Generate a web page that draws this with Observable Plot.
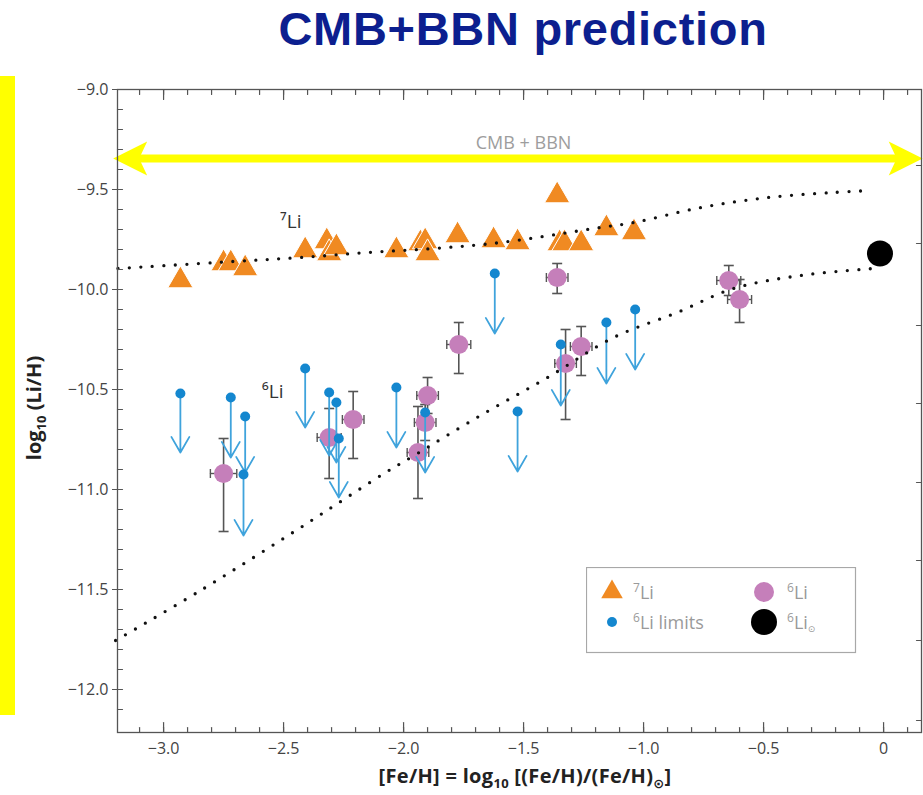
<!DOCTYPE html>
<html>
<head>
<meta charset="utf-8">
<script src="https://cdn.jsdelivr.net/npm/d3@7"></script>
<script src="https://cdn.jsdelivr.net/npm/@observablehq/plot@0.6"></script>
<style>
  html, body { margin: 0; padding: 0; background: #fff; }
  body { width: 923px; height: 795px; position: relative; overflow: hidden; font-family: "Open Sans", "DejaVu Sans", sans-serif; }
  #title { position: absolute; left: 523px; top: 1px; transform: translateX(-50%); white-space: nowrap;
           font-family: "Liberation Sans", Arial, sans-serif; font-weight: bold; font-size: 47px; letter-spacing: 0.7px; color: #0c1f8f; }
  #ybar { position: absolute; left: 0; top: 76px; width: 15px; height: 639px; background: #ffff00; }
  #chart { position: absolute; left: 0; top: 65px; }
  #ylabel { position: absolute; left: 35px; top: 408px; transform: translate(-50%, -50%) rotate(-90deg); white-space: nowrap;
            font-weight: bold; font-size: 20px; color: #222; }
  #xlabel { position: absolute; left: 525px; top: 777px; transform: translate(-50%, -50%); white-space: nowrap;
            font-weight: bold; font-size: 20px; color: #222; letter-spacing: 0.3px; }
  #ylabel sub, #xlabel sub { font-size: 13px; }
  #legend { position: absolute; left: 586px; top: 567px; }
</style>
</head>
<body>
<div id="title">CMB+BBN prediction</div>
<div id="ybar"></div>
<div id="chart"></div>
<div id="ylabel">log<sub>10</sub> (Li/H)</div>
<div id="xlabel">[Fe/H] = log<sub>10</sub> [(Fe/H)/(Fe/H)<sub>⊙</sub>]</div>
<div id="legend"></div>
<script>
// ---------- data ----------
// 7Li measurements: [Fe/H], log10(Li/H)
const li7Stars = [
  [-2.93, -9.955], [-2.75, -9.87], [-2.72, -9.87], [-2.66, -9.895],
  [-2.41, -9.805], [-2.32, -9.76], [-2.31, -9.82], [-2.28, -9.79],
  [-2.03, -9.805], [-1.93, -9.77], [-1.91, -9.76], [-1.90, -9.82],
  [-1.775, -9.73], [-1.625, -9.755], [-1.525, -9.765], [-1.36, -9.53],
  [-1.35, -9.77], [-1.33, -9.77], [-1.26, -9.77], [-1.155, -9.695], [-1.04, -9.715]
];
// 6Li detections: [Fe/H], log10(Li/H), lower, upper, [Fe/H] error
const li6Stars = [
  [-2.75, -10.92, -11.21, -10.745, 0.055],
  [-2.31, -10.74, -10.945, -10.595, 0.05],
  [-2.21, -10.65, -10.845, -10.51, 0.045],
  [-1.90, -10.53, -10.62, -10.44, 0.045],
  [-1.91, -10.665, -10.755, -10.575, 0.045],
  [-1.94, -10.815, -11.045, -10.585, 0.045],
  [-1.77, -10.275, -10.42, -10.165, 0.05],
  [-1.36, -9.94, -10.02, -9.87, 0.045],
  [-1.325, -10.37, -10.65, -10.2, 0.045],
  [-1.26, -10.285, -10.43, -10.185, 0.045],
  [-0.645, -9.955, -10.03, -9.88, 0.05],
  [-0.60, -10.05, -10.165, -9.95, 0.05]
];
// 6Li upper limits: [Fe/H], limit, arrow tip
const li6Limits = [
  [-2.93, -10.52, -10.815], [-2.72, -10.54, -10.84], [-2.66, -10.635, -10.915],
  [-2.667, -10.925, -11.23], [-2.41, -10.395, -10.69], [-2.31, -10.515, -10.83],
  [-2.28, -10.565, -10.865], [-2.27, -10.745, -11.04], [-2.03, -10.49, -10.79],
  [-1.91, -10.615, -10.915], [-1.62, -9.92, -10.22], [-1.525, -10.61, -10.91],
  [-1.345, -10.275, -10.58], [-1.155, -10.165, -10.47], [-1.035, -10.1, -10.4]
];
// solar-system 6Li
const li6Sun = [[-0.015, -9.82]];
// model curves (dotted)
const curve7 = [
  [-3.19, -9.895], [-2.71, -9.86], [-2.43, -9.84], [-2.15, -9.815], [-1.875, -9.795],
  [-1.595, -9.765], [-1.18, -9.69], [-1.04, -9.665], [-0.76, -9.59], [-0.48, -9.54],
  [-0.21, -9.515], [-0.055, -9.505]
];
const curve6 = [
  [-3.2, -11.755], [-2.846, -11.505], [-2.429, -11.19], [-2.275, -11.07], [-2.075, -10.915],
  [-1.97, -10.84], [-1.68, -10.63], [-1.40, -10.44], [-1.125, -10.24], [-0.86, -10.115],
  [-0.625, -9.995], [-0.346, -9.93], [-0.04, -9.895]
];
// CMB + BBN band arrow: [start, end, level]
const bbnArrow = [[-3.21, 0.163, -9.345]];
const bbnLabel = [[-1.5, -9.268, "CMB + BBN"]];
const curveLabels = [[-2.47, -9.66, "⁷Li"], [-2.545, -10.51, "⁶Li"]];
// axes
const xTicks = [-3, -2.5, -2, -1.5, -1, -0.5, 0];
const yTicks = [-9, -9.5, -10, -10.5, -11, -11.5, -12];
const rightTicks = [-9.38, -9.77, -10.18, -10.57, -10.965, -11.355, -11.755, -12.155];
const legendItems = [
  {sym: "triangle", color: "#f08a22", r: 8, sup: "7", label: "Li", sub: "", col: 0, row: 0},
  {sym: "circle", color: "#c57fba", r: 10, sup: "6", label: "Li", sub: "", col: 1, row: 0},
  {sym: "circle", color: "#1487cf", r: 5, sup: "6", label: "Li limits", sub: "", col: 0, row: 1},
  {sym: "circle", color: "#000000", r: 13, sup: "6", label: "Li", sub: "⊙", col: 1, row: 1}
];

// ---------- helpers ----------
const xMinor = d3.range(-31, 2).map(i => i / 10);
const yMinor = d3.range(-121, -89).map(i => i / 10);
const tickShape = {draw(ctx, l) { ctx.moveTo(0, 0); ctx.lineTo(0, -l); }};
const capH = {draw(ctx) { ctx.moveTo(-5, 0); ctx.lineTo(5, 0); }};
const capV = {draw(ctx) { ctx.moveTo(0, -4.5); ctx.lineTo(0, 4.5); }};
const headShape = {draw(ctx) { ctx.moveTo(0, 0); ctx.lineTo(-34, -17); ctx.lineTo(-26, 0); ctx.lineTo(-34, 17); ctx.closePath(); }};
const fmt = d => d === 0 ? "0" : d3.format(".1f")(d);
const tickStyle = {stroke: "#555", strokeWidth: 1.2, anchor: "start", shape: tickShape};

const plot = Plot.plot({
  width: 923, height: 730,
  marginLeft: 117, marginRight: 2, marginTop: 24, marginBottom: 63,
  x: {domain: [-3.192, 0.158]},
  y: {domain: [-12.215, -9.0]},
  style: {fontFamily: "'Open Sans', 'DejaVu Sans', sans-serif", fontSize: "16px", color: "#444", background: "transparent", overflow: "visible"},
  marks: [
    // error bars
    Plot.ruleX(li6Stars, {x: d => d[0], y1: d => d[2], y2: d => d[3], stroke: "#555", strokeWidth: 1.6}),
    Plot.dot(li6Stars, {x: d => d[0], y: d => d[2], symbol: capH, stroke: "#555", strokeWidth: 1.6, fill: "none"}),
    Plot.dot(li6Stars, {x: d => d[0], y: d => d[3], symbol: capH, stroke: "#555", strokeWidth: 1.6, fill: "none"}),
    Plot.ruleY(li6Stars, {y: d => d[1], x1: d => d[0] - d[4], x2: d => d[0] + d[4], stroke: "#555", strokeWidth: 1.4}),
    Plot.dot(li6Stars, {x: d => d[0] - d[4], y: d => d[1], symbol: capV, stroke: "#555", strokeWidth: 1.4, fill: "none"}),
    Plot.dot(li6Stars, {x: d => d[0] + d[4], y: d => d[1], symbol: capV, stroke: "#555", strokeWidth: 1.4, fill: "none"}),
    // 6Li detections
    Plot.dot(li6Stars, {x: d => d[0], y: d => d[1], r: 9.5, fill: "#c57fba"}),
    // upper-limit arrows
    Plot.arrow(li6Limits, {x1: d => d[0], y1: d => d[1], x2: d => d[0], y2: d => d[2], stroke: "#3fa3dc", strokeWidth: 1.8, headAngle: 60, headLength: 15}),
    Plot.dot(li6Limits, {x: d => d[0], y: d => d[1], r: 5, fill: "#1487cf"}),
    // 7Li
    Plot.dot(li7Stars, {x: d => d[0], y: d => d[1], symbol: "triangle", r: 9.4, fill: "#f08a22", stroke: "#fff", strokeWidth: 1}),
    // solar 6Li
    Plot.dot(li6Sun, {x: d => d[0], y: d => d[1], r: 13, fill: "#000"}),
    // model curves
    Plot.line(curve7, {x: d => d[0], y: d => d[1], curve: "catmull-rom", stroke: "#111", strokeWidth: 3.3, strokeDasharray: "0,11.5", strokeLinecap: "round"}),
    Plot.line(curve6, {x: d => d[0], y: d => d[1], curve: "catmull-rom", stroke: "#111", strokeWidth: 3.3, strokeDasharray: "0,11.5", strokeLinecap: "round"}),
    // CMB + BBN arrow
    Plot.ruleY(bbnArrow, {y: d => d[2], x1: d => d[0] + 0.06, x2: d => d[1] - 0.06, stroke: "#ffff00", strokeWidth: 8}),
    Plot.dot(bbnArrow, {x: d => d[1], y: d => d[2], symbol: headShape, fill: "#ffff00", stroke: "none"}),
    Plot.dot(bbnArrow, {x: d => d[0], y: d => d[2], symbol: headShape, rotate: 180, fill: "#ffff00", stroke: "none"}),
    Plot.text(bbnLabel, {x: d => d[0], y: d => d[1], text: d => d[2], fill: "#9d9d9d", fontSize: 18}),
    Plot.text(curveLabels, {x: d => d[0], y: d => d[1], text: d => d[2], fill: "#333", fontSize: 19}),
    // frame and ticks
    Plot.frame({stroke: "#555", strokeWidth: 1.3}),
    Plot.vector(xMinor, {x: d => d, frameAnchor: "bottom", length: 5, rotate: 0, ...tickStyle}),
    Plot.vector(xTicks, {x: d => d, frameAnchor: "bottom", length: 10, rotate: 0, ...tickStyle}),
    Plot.vector(xMinor, {x: d => d, frameAnchor: "top", length: 5, rotate: 180, ...tickStyle}),
    Plot.vector(xTicks, {x: d => d, frameAnchor: "top", length: 10, rotate: 180, ...tickStyle}),
    Plot.vector(yMinor, {y: d => d, frameAnchor: "left", length: 5, rotate: 90, ...tickStyle}),
    Plot.vector(rightTicks, {y: d => d, frameAnchor: "right", length: 5, rotate: -90, ...tickStyle}),
    Plot.axisY({ticks: yTicks, tickSize: 5, tickPadding: 4, tickFormat: fmt, stroke: "#555", fill: "#444", label: null}),
    Plot.axisX({ticks: xTicks, tickSize: 0, tickPadding: 10, tickFormat: fmt, fill: "#444", label: null})
  ]
});
document.getElementById("chart").appendChild(plot);

// ---------- legend ----------
const lg = d3.select("#legend").append("svg").attr("width", 272).attr("height", 88)
  .style("font-family", "'Open Sans', 'DejaVu Sans', sans-serif");
lg.append("rect").attr("x", 0.5).attr("y", 0.5).attr("width", 269).attr("height", 85)
  .attr("fill", "#fff").attr("stroke", "#a8a8a8").attr("stroke-width", 1.2);
const colX = [26, 178], rowY = [25, 55], textX = [47, 201];
legendItems.forEach(it => {
  const cx = colX[it.col], cy = rowY[it.row];
  lg.append("path")
    .attr("transform", `translate(${cx},${cy})`)
    .attr("d", d3.symbol(it.sym === "triangle" ? d3.symbolTriangle : d3.symbolCircle, Math.PI * it.r * it.r)())
    .attr("fill", it.color);
  const t = lg.append("text").attr("x", textX[it.col]).attr("y", cy + 7).attr("fill", "#9a9a9a").attr("font-size", 18);
  t.append("tspan").attr("font-size", 12).attr("dy", -7).text(it.sup);
  t.append("tspan").attr("dy", 7).text(it.label);
  if (it.sub) t.append("tspan").attr("font-size", 9).attr("dy", 3).text(it.sub);
});
</script>
</body>
</html>
